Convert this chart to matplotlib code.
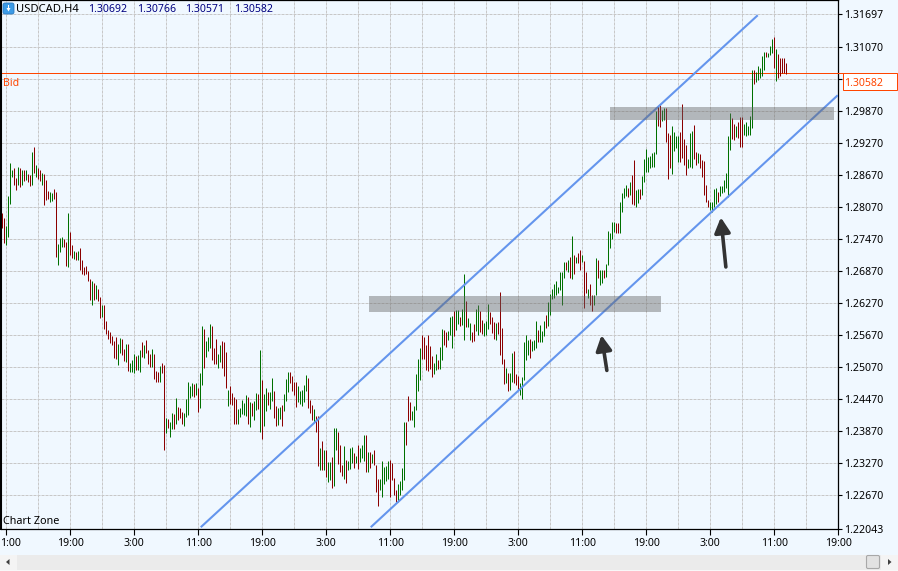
import matplotlib
matplotlib.use("Agg")
import matplotlib.pyplot as plt
from matplotlib.patches import FancyBboxPatch, Polygon, Rectangle

plt.rcParams["font.family"] = ["Noto Sans", "DejaVu Sans"]

# USDCAD H4 bars, ten per row
highs = [
    1.2796, 1.2786, 1.2771, 1.2828, 1.2889, 1.2876, 1.2880, 1.2861, 1.2882, 1.2880,
    1.2876, 1.2876, 1.2876, 1.2869, 1.2867, 1.2910, 1.2920, 1.2886, 1.2880, 1.2876,
    1.2871, 1.2869, 1.2858, 1.2837, 1.2835, 1.2833, 1.2841, 1.2835, 1.2738, 1.2749,
    1.2751, 1.2747, 1.2741, 1.2796, 1.2760, 1.2736, 1.2724, 1.2723, 1.2724, 1.2730,
    1.2708, 1.2694, 1.2696, 1.2687, 1.2672, 1.2668, 1.2664, 1.2661, 1.2653, 1.2638,
    1.2623, 1.2623, 1.2593, 1.2576, 1.2573, 1.2565, 1.2556, 1.2563, 1.2550, 1.2561,
    1.2559, 1.2541, 1.2550, 1.2550, 1.2514, 1.2520, 1.2531, 1.2528, 1.2529, 1.2539,
    1.2554, 1.2548, 1.2558, 1.2539, 1.2531, 1.2541, 1.2531, 1.2499, 1.2498, 1.2509,
    1.2514, 1.2511, 1.2411, 1.2409, 1.2404, 1.2421, 1.2419, 1.2449, 1.2432, 1.2430,
    1.2423, 1.2421, 1.2447, 1.2479, 1.2471, 1.2477, 1.2475, 1.2477, 1.2468, 1.2496,
    1.2584, 1.2578, 1.2556, 1.2563, 1.2588, 1.2584, 1.2543, 1.2559, 1.2531, 1.2548,
    1.2556, 1.2554, 1.2535, 1.2464, 1.2471, 1.2458, 1.2451, 1.2447, 1.2428, 1.2430,
    1.2445, 1.2440, 1.2454, 1.2451, 1.2441, 1.2439, 1.2443, 1.2458, 1.2456, 1.2539,
    1.2483, 1.2456, 1.2468, 1.2460, 1.2460, 1.2486, 1.2462, 1.2434, 1.2430, 1.2432,
    1.2436, 1.2456, 1.2484, 1.2498, 1.2498, 1.2490, 1.2479, 1.2479, 1.2471, 1.2462,
    1.2464, 1.2473, 1.2492, 1.2486, 1.2445, 1.2436, 1.2428, 1.2415, 1.2415, 1.2355,
    1.2368, 1.2351, 1.2351, 1.2329, 1.2329, 1.2338, 1.2393, 1.2393, 1.2385, 1.2362,
    1.2323, 1.2359, 1.2333, 1.2331, 1.2355, 1.2357, 1.2346, 1.2340, 1.2361, 1.2355,
    1.2362, 1.2380, 1.2380, 1.2348, 1.2348, 1.2344, 1.2351, 1.2323, 1.2297, 1.2297,
    1.2331, 1.2319, 1.2321, 1.2331, 1.2333, 1.2327, 1.2299, 1.2276, 1.2288, 1.2293,
    1.2318, 1.2404, 1.2404, 1.2453, 1.2441, 1.2424, 1.2434, 1.2494, 1.2522, 1.2543,
    1.2567, 1.2563, 1.2548, 1.2567, 1.2546, 1.2528, 1.2514, 1.2531, 1.2520, 1.2544,
    1.2578, 1.2576, 1.2573, 1.2574, 1.2601, 1.2603, 1.2612, 1.2614, 1.2614, 1.2601,
    1.2616, 1.2681, 1.2631, 1.2599, 1.2590, 1.2573, 1.2588, 1.2616, 1.2623, 1.2612,
    1.2595, 1.2590, 1.2593, 1.2625, 1.2610, 1.2601, 1.2591, 1.2590, 1.2591, 1.2648,
    1.2580, 1.2522, 1.2505, 1.2496, 1.2496, 1.2533, 1.2537, 1.2494, 1.2490, 1.2477,
    1.2488, 1.2554, 1.2567, 1.2558, 1.2559, 1.2556, 1.2558, 1.2593, 1.2576, 1.2586,
    1.2574, 1.2593, 1.2604, 1.2629, 1.2644, 1.2653, 1.2663, 1.2668, 1.2657, 1.2685,
    1.2685, 1.2704, 1.2704, 1.2708, 1.2713, 1.2753, 1.2717, 1.2713, 1.2721, 1.2726,
    1.2717, 1.2706, 1.2685, 1.2653, 1.2663, 1.2642, 1.2642, 1.2711, 1.2708, 1.2689,
    1.2689, 1.2689, 1.2700, 1.2762, 1.2758, 1.2779, 1.2779, 1.2777, 1.2777, 1.2816,
    1.2833, 1.2843, 1.2848, 1.2843, 1.2854, 1.2867, 1.2895, 1.2839, 1.2841, 1.2841,
    1.2865, 1.2897, 1.2916, 1.2901, 1.2903, 1.2908, 1.2910, 1.2987, 1.2996, 1.2998,
    1.2989, 1.2994, 1.2994, 1.2946, 1.2942, 1.2959, 1.2948, 1.2940, 1.2940, 1.2948,
    1.3000, 1.2935, 1.2923, 1.2897, 1.2946, 1.2950, 1.2961, 1.2910, 1.2908, 1.2906,
    1.2895, 1.2893, 1.2848, 1.2820, 1.2816, 1.2816, 1.2841, 1.2843, 1.2835, 1.2846,
    1.2846, 1.2858, 1.2871, 1.2940, 1.2983, 1.2974, 1.2964, 1.2959, 1.2966, 1.2976,
    1.2976, 1.2963, 1.2966, 1.2959, 1.2979, 1.3064, 1.3064, 1.3060, 1.3071, 1.3068,
    1.3090, 1.3098, 1.3098, 1.3096, 1.3109, 1.3122, 1.3126, 1.3103, 1.3094, 1.3086,
    1.3086, 1.3086, 1.30766,
]
lows = [
    1.2768, 1.2739, 1.2736, 1.2751, 1.2813, 1.2863, 1.2848, 1.2839, 1.2848, 1.2844,
    1.2848, 1.2856, 1.2858, 1.2854, 1.2846, 1.2848, 1.2871, 1.2863, 1.2859, 1.2856,
    1.2848, 1.2811, 1.2820, 1.2822, 1.2816, 1.2818, 1.2822, 1.2713, 1.2698, 1.2723,
    1.2732, 1.2732, 1.2696, 1.2694, 1.2717, 1.2711, 1.2709, 1.2708, 1.2708, 1.2689,
    1.2681, 1.2679, 1.2681, 1.2668, 1.2633, 1.2623, 1.2633, 1.2634, 1.2631, 1.2599,
    1.2601, 1.2578, 1.2569, 1.2559, 1.2552, 1.2548, 1.2524, 1.2522, 1.2511, 1.2533,
    1.2529, 1.2518, 1.2516, 1.2499, 1.2498, 1.2498, 1.2496, 1.2501, 1.2501, 1.2498,
    1.2526, 1.2524, 1.2533, 1.2513, 1.2507, 1.2507, 1.2484, 1.2479, 1.2479, 1.2479,
    1.2496, 1.2351, 1.2383, 1.2393, 1.2376, 1.2391, 1.2391, 1.2400, 1.2408, 1.2411,
    1.2400, 1.2396, 1.2413, 1.2417, 1.2449, 1.2453, 1.2451, 1.2454, 1.2423, 1.2430,
    1.2473, 1.2505, 1.2526, 1.2537, 1.2543, 1.2520, 1.2513, 1.2513, 1.2505, 1.2516,
    1.2505, 1.2490, 1.2468, 1.2434, 1.2438, 1.2436, 1.2400, 1.2400, 1.2400, 1.2413,
    1.2419, 1.2417, 1.2415, 1.2400, 1.2394, 1.2415, 1.2408, 1.2426, 1.2428, 1.2385,
    1.2372, 1.2396, 1.2424, 1.2436, 1.2428, 1.2443, 1.2411, 1.2396, 1.2398, 1.2409,
    1.2396, 1.2424, 1.2443, 1.2460, 1.2477, 1.2462, 1.2454, 1.2432, 1.2441, 1.2438,
    1.2434, 1.2441, 1.2462, 1.2430, 1.2421, 1.2408, 1.2404, 1.2385, 1.2321, 1.2314,
    1.2314, 1.2314, 1.2301, 1.2292, 1.2295, 1.2280, 1.2284, 1.2351, 1.2325, 1.2310,
    1.2303, 1.2297, 1.2290, 1.2314, 1.2316, 1.2327, 1.2318, 1.2327, 1.2316, 1.2329,
    1.2336, 1.2331, 1.2310, 1.2310, 1.2318, 1.2327, 1.2323, 1.2273, 1.2246, 1.2276,
    1.2263, 1.2288, 1.2293, 1.2297, 1.2263, 1.2295, 1.2267, 1.2254, 1.2254, 1.2267,
    1.2276, 1.2295, 1.2361, 1.2406, 1.2408, 1.2408, 1.2394, 1.2426, 1.2462, 1.2483,
    1.2522, 1.2522, 1.2501, 1.2499, 1.2503, 1.2488, 1.2494, 1.2501, 1.2503, 1.2503,
    1.2520, 1.2548, 1.2544, 1.2558, 1.2567, 1.2543, 1.2565, 1.2576, 1.2588, 1.2584,
    1.2586, 1.2558, 1.2582, 1.2582, 1.2558, 1.2554, 1.2556, 1.2574, 1.2567, 1.2573,
    1.2569, 1.2565, 1.2567, 1.2578, 1.2588, 1.2571, 1.2559, 1.2558, 1.2569, 1.2529,
    1.2513, 1.2475, 1.2477, 1.2462, 1.2464, 1.2479, 1.2477, 1.2473, 1.2464, 1.2454,
    1.2447, 1.2483, 1.2520, 1.2529, 1.2524, 1.2537, 1.2539, 1.2543, 1.2554, 1.2554,
    1.2554, 1.2565, 1.2580, 1.2584, 1.2604, 1.2634, 1.2636, 1.2642, 1.2646, 1.2651,
    1.2623, 1.2674, 1.2689, 1.2685, 1.2674, 1.2672, 1.2681, 1.2702, 1.2702, 1.2689,
    1.2704, 1.2618, 1.2646, 1.2636, 1.2623, 1.2612, 1.2623, 1.2642, 1.2674, 1.2661,
    1.2664, 1.2674, 1.2676, 1.2698, 1.2730, 1.2747, 1.2760, 1.2758, 1.2758, 1.2758,
    1.2798, 1.2824, 1.2828, 1.2826, 1.2830, 1.2813, 1.2811, 1.2807, 1.2815, 1.2822,
    1.2830, 1.2854, 1.2873, 1.2873, 1.2880, 1.2882, 1.2882, 1.2906, 1.2959, 1.2957,
    1.2968, 1.2970, 1.2929, 1.2859, 1.2880, 1.2869, 1.2912, 1.2918, 1.2891, 1.2891,
    1.2899, 1.2886, 1.2867, 1.2880, 1.2882, 1.2880, 1.2897, 1.2886, 1.2889, 1.2880,
    1.2863, 1.2830, 1.2816, 1.2807, 1.2801, 1.2798, 1.2807, 1.2813, 1.2816, 1.2828,
    1.2833, 1.2835, 1.2843, 1.2826, 1.2914, 1.2935, 1.2933, 1.2938, 1.2936, 1.2920,
    1.2920, 1.2942, 1.2940, 1.2942, 1.2942, 1.2955, 1.3039, 1.3041, 1.3045, 1.3049,
    1.3054, 1.3064, 1.3088, 1.3088, 1.3092, 1.3096, 1.3068, 1.3043, 1.3049, 1.3054,
    1.3058, 1.3058, 1.30571,
]
# u = up bar, d = down bar
directions = """
d d u u u u d d u d  u d u d d u d u d d  u d d d u u d d u u  u d d u d d u d u d
d d d d d u d u d d  u d d d d d d d u u  d d u d u u u d u u  d u d d d u d d d u
d d u d u u d u d d  d u u u u u d u d u  u d u u u d d d u u  d d d u d d d d u u
u u u d u d u u d u  d u u d u u d d u u  d u u u d d d d u u  u u u d d d u d d u
d u d u u d u u d d  d u d u u u d u d u  u u d u d u d d d u  u u u u d d d d u u
u u d d d u u u u u  d d d d d d u u d u  u d d u u u d u u d  u u d u u d d u u d
d u u u d d d u d d  d d u d u u d d d u  u u u u d u u u d u  u u d u u u u u u u
u u d u d u d u d d  u d d u d d u u d u  u d u u u u u d d u  u u u d u d d u u d
u u u u u u u u d d  u u d d d u u u u d  d d d u u u d d u d  d d d d u u u u d u
u u u u u d d u d d  d u u u u u d u u u  u u d u u u d u d d  d d d
""".split()

bid_price = 1.30582
quote_open, quote_high, quote_low, quote_close = "1.30692", "1.30766", "1.30571", "1.30582"

# trend channel and the two shaded zones (bar index, price)
channel_upper_x = [99.25, 377.75]
channel_upper_y = [1.2207, 1.3167]
channel_lower_x = [184.25, 417.75]
channel_lower_y = [1.2207, 1.3017]
zone_low = {"x0": 183.25, "x1": 329.25, "y0": 1.2610, "y1": 1.2640}
zone_high = {"x0": 303.75, "x1": 415.75, "y0": 1.2970, "y1": 1.2995}

arrow_tips = [(299.6, 1.2567), (359.3, 1.2788)]
arrow_tails = [(302.3, 1.2501), (361.8, 1.2695)]

y_ticks = [1.31697, 1.31070, 1.30470, 1.29870, 1.29270, 1.28670, 1.28070, 1.27470,
           1.26870, 1.26270, 1.25670, 1.25070, 1.24470, 1.23870, 1.23270, 1.22670, 1.22043]
y_labels = ["1.31697", "1.31070", "", "1.29870", "1.29270", "1.28670", "1.28070", "1.27470",
            "1.26870", "1.26270", "1.25670", "1.25070", "1.24470", "1.23870", "1.23270",
            "1.22670", "1.22043"]
time_labels = ["", "19:00", "3:00", "11:00", "19:00", "3:00", "11:00",
               "19:00", "3:00", "11:00", "19:00", "3:00", "11:00", "19:00"]

BG = "#F0F8FF"
UP = "#007000"
DOWN = "#8B0000"
BID = "#FF4500"
CHANNEL = "#6495ED"
GRID = "#C8C8C8"

W, H = 898, 571
fig = plt.figure(figsize=(W / 100, H / 100), dpi=100, facecolor=BG)
# quarter-pixel offsets keep the snapped 1px lines on the wanted pixel rows and columns
ax = fig.add_axes([0.75 / W, (H - 529.25) / H, 837.5 / W, 529 / H], facecolor=BG)
ax.set_xlim(-0.75, 418)
ax.set_ylim(1.22032, 1.31951)

# grid every 16 bars, time labels every 32
grid_x = [2 + 16 * k for k in range(27)]
for gx in grid_x:
    ax.axvline(gx, color=GRID, lw=0.72, ls=(0, (3, 1)), zorder=1, snap=True)
for gy in y_ticks:
    ax.axhline(gy, color=GRID, lw=0.72, ls=(0, (3, 1)), zorder=1, snap=True)

idx = list(range(len(highs)))
colors = [UP if d == "u" else DOWN for d in directions]
ax.vlines(idx, lows, highs, colors=colors, lw=0.72, zorder=3, snap=True, capstyle="butt")

ax.axhline(bid_price, color=BID, lw=0.72, zorder=2, snap=True)

ax.plot(channel_upper_x, channel_upper_y, color=CHANNEL, lw=1.5, zorder=4, solid_capstyle="butt")
ax.plot(channel_lower_x, channel_lower_y, color=CHANNEL, lw=1.5, zorder=4, solid_capstyle="butt")

for zone in (zone_low, zone_high):
    ax.add_patch(Rectangle((zone["x0"], zone["y0"]), zone["x1"] - zone["x0"], zone["y1"] - zone["y0"],
                           facecolor="#646464", edgecolor="none", alpha=0.44, zorder=5))

for tip, tail in zip(arrow_tips, arrow_tails):
    ax.annotate("", xy=tip, xytext=tail, zorder=6,
                arrowprops=dict(arrowstyle="-|>,head_length=0.95,head_width=0.5", color="#333333",
                                lw=2.6, mutation_scale=9.5, shrinkA=0, shrinkB=0))

ax.yaxis.tick_right()
ax.set_yticks(y_ticks)
ax.set_yticklabels(y_labels, fontsize=7.6, color="black")
ax.set_xticks(grid_x[::2])
ax.set_xticklabels(time_labels, fontsize=7.6, color="black")
ax.tick_params(axis="y", length=3, width=0.8, pad=1)
ax.tick_params(axis="x", length=4, width=0.8, pad=2)
for spine in ax.spines.values():
    spine.set_linewidth(0.9)
ax.spines["left"].set_linewidth(1.5)

# window furniture in pixel coordinates
ui = fig.add_axes([0, 0, 1, 1], facecolor="none", zorder=10)
ui.set_xlim(0, W)
ui.set_ylim(H, 0)
ui.axis("off")

ui.add_patch(FancyBboxPatch((4, 4), 9, 9, boxstyle="round,pad=1,rounding_size=2",
                            facecolor="#3C9BE6", edgecolor="#2A78C0", lw=0.6))
ui.add_patch(Polygon([(6.5, 8), (10.5, 8), (8.5, 11.5)], facecolor="white", edgecolor="none"))
ui.add_patch(Rectangle((7.7, 4.5), 1.6, 4, facecolor="white", edgecolor="none"))

ui.text(16, 9.5, "USDCAD,H4", fontsize=8.1, color="black", va="center")
for tx, val in zip([88, 137, 185, 234], [quote_open, quote_high, quote_low, quote_close]):
    ui.text(tx, 9.5, val, fontsize=7.6, color="#000080", va="center")

ui.text(3, 83.5, "Bid", fontsize=7.6, color=BID, va="center")
ui.text(3, 521, "Chart Zone", fontsize=7.8, color="black", va="center")
ui.text(0.5, 543, "1:00", fontsize=7.6, color="black", va="center")

# current price box on the scale
ui.add_patch(Rectangle((842.5, 73.25), 54.5, 16.5, facecolor="white", edgecolor=BID, lw=0.72))
ui.plot([838, 842.5], [73.25, 73.25], color=BID, lw=0.72)
ui.text(844.5, 83, quote_close, fontsize=7.6, color=BID, va="center")

# scroll bar along the bottom
ui.add_patch(Rectangle((0, 555), W, 15, facecolor="#EBEBEB", edgecolor="none"))
ui.add_patch(Rectangle((0, 555), 17, 15, facecolor="#F4F4F4", edgecolor="none"))
ui.add_patch(Rectangle((881, 555), 17, 15, facecolor="#F4F4F4", edgecolor="none"))
ui.add_patch(Rectangle((0, 570), W, 1, facecolor="#F8F8F8", edgecolor="none"))
ui.add_patch(Polygon([(9.5, 559), (9.5, 565), (6, 562)], facecolor="#404040", edgecolor="none"))
ui.add_patch(Polygon([(888, 559), (888, 565), (891.5, 562)], facecolor="#404040", edgecolor="none"))
ui.add_patch(FancyBboxPatch((866.5, 555.5), 13, 13, boxstyle="round,pad=0,rounding_size=1.5",
                            facecolor="#E2E2E2", edgecolor="#A8A8A8", lw=0.8))

fig.savefig("out.png", dpi=100, facecolor=BG)
